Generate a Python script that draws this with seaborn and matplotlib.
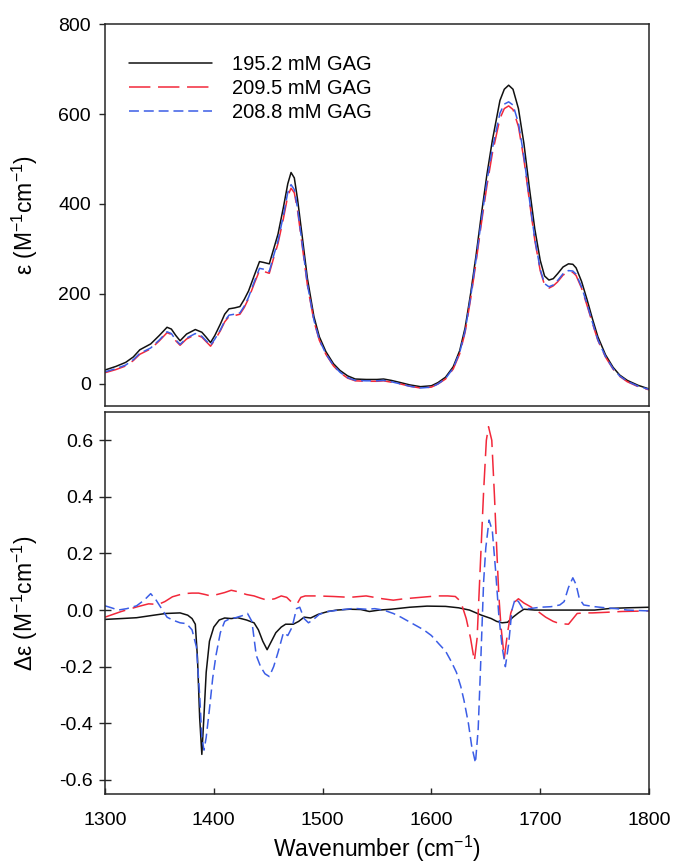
import matplotlib
matplotlib.use("Agg")
import matplotlib.pyplot as plt
import seaborn as sns
import numpy as np
import pandas as pd

# ---------------- data ----------------
labels = ["195.2 mM GAG", "209.5 mM GAG", "208.8 mM GAG"]

# top panel: extinction coefficient spectra
wn_top = [1300, 1310, 1319, 1326, 1332, 1342, 1350, 1357, 1361, 1365, 1369, 1375,
          1383, 1389, 1393, 1397, 1401, 1406, 1410, 1414, 1419, 1424, 1428, 1432,
          1437, 1442, 1446, 1451, 1455, 1459, 1464, 1468, 1471, 1474, 1477, 1481,
          1486, 1492, 1497, 1503, 1510, 1516, 1523, 1530, 1540, 1550, 1556, 1563,
          1570, 1580, 1590, 1600, 1606, 1613, 1620, 1626, 1631, 1636, 1641, 1646,
          1651, 1656, 1663, 1667, 1671, 1675, 1680, 1685, 1690, 1695, 1700, 1704,
          1708, 1712, 1716, 1721, 1726, 1730, 1733, 1738, 1743, 1748, 1753, 1760,
          1767, 1773, 1780, 1790, 1800]
eps_195 = [31, 39, 48, 60, 76, 89, 108, 126, 122, 108, 96, 111,
           121, 115, 104, 92, 108, 133, 155, 167, 169, 172, 188, 207,
           240, 272, 270, 267, 300, 333, 393, 445, 470, 458, 410, 333,
           235, 150, 105, 72, 45, 30, 18, 11, 10, 10, 11, 8,
           4, -2, -6, -4, 3, 15, 38, 74, 125, 200, 285, 378,
           465, 541, 630, 655, 664, 655, 612, 535, 437, 345, 275, 240,
           231, 234, 245, 260, 267, 266, 258, 228, 188, 145, 105, 65,
           37, 20, 8, -3, -11]
eps_209_5 = [25, 32, 40, 52, 66, 78, 96, 114, 110, 96, 86, 100,
             110, 104, 94, 84, 98, 118, 138, 150, 152, 155, 170, 190,
             222, 252, 250, 246, 280, 312, 368, 418, 435, 425, 385, 312,
             220, 140, 97, 66, 40, 25, 13, 7, 6, 6, 7, 4,
             1, -5, -9, -7, 0, 11, 33, 67, 115, 188, 270, 358,
             440, 512, 590, 612, 618, 610, 572, 500, 408, 320, 252, 220,
             213, 218, 227, 242, 249, 248, 241, 213, 175, 135, 97, 60,
             33, 17, 5, -6, -13]
eps_208_8 = [27, 34, 42, 54, 68, 80, 98, 116, 112, 98, 88, 102,
             112, 106, 96, 86, 100, 120, 140, 153, 155, 158, 173, 193,
             226, 257, 255, 250, 285, 318, 375, 426, 443, 432, 390, 316,
             222, 142, 98, 67, 41, 26, 14, 8, 7, 7, 8, 5,
             1, -5, -9, -7, 0, 12, 35, 70, 118, 192, 276, 365,
             450, 523, 602, 622, 627, 620, 580, 506, 412, 323, 255, 223,
             216, 220, 230, 245, 252, 251, 244, 216, 178, 137, 98, 61,
             34, 18, 6, -5, -12]

# bottom panel: difference spectra
wn_d_195 = [1300, 1315, 1329, 1345, 1356, 1369, 1376, 1380, 1383, 1385, 1387, 1389,
            1391, 1393, 1396, 1400, 1405, 1410, 1416, 1422, 1430, 1437, 1441, 1445,
            1449, 1453, 1457, 1462, 1466, 1473, 1478, 1483, 1489, 1496, 1505, 1513,
            1525, 1535, 1543, 1552, 1563, 1580, 1596, 1613, 1625, 1635, 1646, 1655,
            1660, 1665, 1670, 1675, 1680, 1685, 1695, 1720, 1750, 1765, 1780, 1800]
d_195 = [-0.033, -0.03, -0.027, -0.018, -0.012, -0.01, -0.018, -0.03, -0.05, -0.17, -0.38, -0.51,
         -0.37, -0.22, -0.11, -0.06, -0.035, -0.028, -0.03, -0.027, -0.035, -0.045, -0.07, -0.11,
         -0.14, -0.11, -0.08, -0.06, -0.05, -0.05, -0.04, -0.025, -0.028, -0.015, -0.005, 0.0,
         0.003, 0.002, -0.005, 0.0, 0.003, 0.01, 0.014, 0.013, 0.008, 0.0, -0.018, -0.03,
         -0.04, -0.045, -0.043, -0.025, -0.01, 0.003, 0.0, 0.0, 0.0, 0.006, 0.008, 0.01]

wn_d_209_5 = [1300, 1315, 1330, 1340, 1349, 1355, 1362, 1372, 1380, 1386, 1392, 1397,
              1403, 1410, 1416, 1422, 1430, 1437, 1443, 1449, 1456, 1462, 1467, 1471,
              1474, 1477, 1480, 1484, 1495, 1510, 1525, 1540, 1555, 1565, 1575, 1590,
              1605, 1615, 1622, 1627, 1632, 1636, 1639.5, 1642, 1644.7, 1648, 1650.5, 1652.5,
              1655.5, 1658, 1660, 1662, 1664, 1667, 1670, 1673, 1677, 1680, 1685, 1692,
              1698, 1705, 1712, 1718, 1726, 1734, 1740, 1748, 1760, 1775, 1800]
d_209_5 = [-0.025, -0.005, 0.012, 0.022, 0.02, 0.03, 0.047, 0.058, 0.06, 0.06, 0.055, 0.05,
           0.055, 0.062, 0.07, 0.065, 0.055, 0.05, 0.042, 0.035, 0.04, 0.05, 0.045, 0.03,
           0.022, 0.025, 0.045, 0.05, 0.05, 0.048, 0.045, 0.05, 0.04, 0.035, 0.04, 0.045,
           0.05, 0.05, 0.048, 0.03, -0.03, -0.1, -0.18, -0.1, 0.135, 0.42, 0.6, 0.648,
           0.6, 0.4, 0.22, 0.05, -0.06, -0.17, -0.08, -0.01, 0.03, 0.04, 0.025, 0.01,
           -0.005, -0.025, -0.04, -0.048, -0.05, -0.012, -0.01, -0.01, -0.008, -0.005, -0.003]

wn_d_208_8 = [1300, 1306, 1312, 1320, 1329, 1336, 1342, 1347, 1352, 1357, 1362, 1369,
              1375, 1380, 1384, 1387, 1389, 1391, 1393, 1396, 1399, 1402, 1406, 1410,
              1415, 1420, 1426, 1431, 1435, 1439, 1443, 1447, 1451, 1455, 1459, 1464,
              1468, 1472, 1476, 1479, 1483, 1487, 1491, 1497, 1505, 1515, 1529, 1540,
              1548, 1556, 1565, 1572, 1579, 1586, 1593, 1600, 1607, 1613, 1618, 1623,
              1627, 1630, 1634, 1637, 1640.5, 1643, 1645, 1648, 1650, 1653, 1656, 1659,
              1662, 1665, 1668, 1671, 1674, 1677, 1680, 1684, 1690, 1700, 1710, 1718,
              1722, 1726, 1730, 1733, 1736, 1740, 1750, 1760, 1770, 1780, 1800]
d_208_8 = [0.015, 0.008, 0.0, 0.005, 0.015, 0.035, 0.058, 0.035, 0.005, -0.025, -0.035, -0.045,
           -0.048, -0.07, -0.13, -0.3, -0.45, -0.495, -0.45, -0.35, -0.24, -0.16, -0.08, -0.04,
           -0.03, -0.027, -0.02, -0.012, -0.04, -0.16, -0.2, -0.225, -0.235, -0.2, -0.15, -0.08,
           -0.09, -0.06, 0.005, 0.01, -0.03, -0.045, -0.035, -0.015, -0.005, 0.0, 0.006, 0.003,
           0.005, 0.0, -0.012, -0.025, -0.04, -0.055, -0.07, -0.09, -0.12, -0.145, -0.18, -0.22,
           -0.27, -0.32, -0.4, -0.48, -0.54, -0.42, -0.22, 0.1, 0.22, 0.318, 0.28, 0.14,
           -0.02, -0.13, -0.2, -0.12, 0.0, 0.04, 0.03, 0.005, 0.005, 0.01, 0.012, 0.018,
           0.03, 0.08, 0.114, 0.09, 0.04, 0.018, 0.012, 0.008, 0.005, 0.0, -0.003]

top_ticks = [0, 200, 400, 600, 800]
bot_ticks = [-0.6, -0.4, -0.2, 0.0, 0.2, 0.4, 0.6]
bot_ticklabels = ["-0.6", "-0.4", "-0.2", "0.0", "0.2", "0.4", "0.6"]
x_ticks = [1300, 1400, 1500, 1600, 1700, 1800]

# ---------------- style ----------------
sns.set_style("ticks")
plt.rcParams["font.family"] = ["Liberation Sans", "DejaVu Sans"]
plt.rcParams["mathtext.default"] = "regular"
plt.rcParams["axes.unicode_minus"] = False
plt.rcParams["text.color"] = "black"
plt.rcParams["axes.labelcolor"] = "black"
plt.rcParams["xtick.color"] = "black"
plt.rcParams["ytick.color"] = "black"

BLACK = "#111111"
RED = "#f2283a"
BLUE = "#3b5de6"
SPINE = "#262626"

fig = plt.figure(figsize=(6.74, 8.67), dpi=100)
ax1 = fig.add_axes([0.1558, 0.5317, 0.8071, 0.4406])
ax2 = fig.add_axes([0.1558, 0.0842, 0.8071, 0.4406])

styles = [
    dict(color=BLACK, linestyle="-"),
    dict(color=RED, linestyle=(0, (14, 5))),
    dict(color=BLUE, linestyle=(0, (6.5, 3.2))),
]

top_series = [(wn_top, eps_195), (wn_top, eps_209_5), (wn_top, eps_208_8)]
bot_series = [(wn_d_195, d_195), (wn_d_209_5, d_209_5), (wn_d_208_8, d_208_8)]

for (x, y), lab, st in zip(top_series, labels, styles):
    sns.lineplot(x=x, y=y, ax=ax1, label=lab, linewidth=1.1, **st)
for (x, y), st in zip(bot_series, styles):
    sns.lineplot(x=x, y=y, ax=ax2, linewidth=1.1, **st)

for ax in (ax1, ax2):
    ax.set_xlim(1300, 1800)
    for s in ax.spines.values():
        s.set_visible(True)
        s.set_linewidth(1.1)
        s.set_color(SPINE)

ax1.set_ylim(-49, 800)
ax1.set_yticks(top_ticks)
ax1.set_xticks([])
ax1.tick_params(axis="y", direction="out", length=4, width=1.0, pad=6,
                labelsize=14, color=SPINE, labelcolor="black")
ax1.set_xlabel("")
ax1.set_ylabel(r"ε (M$^{-1}$cm$^{-1}$)", fontsize=16.5, color="black")
ax1.yaxis.set_label_coords(-0.12, 0.5)

ax2.set_ylim(-0.65, 0.70)
ax2.set_yticks(bot_ticks)
ax2.set_yticklabels(bot_ticklabels)
ax2.set_xticks(x_ticks)
ax2.tick_params(axis="y", direction="inout", length=9, width=1.0, pad=4,
                labelsize=14, color=SPINE, labelcolor="black")
ax2.tick_params(axis="x", direction="in", length=4, width=1.0, pad=13,
                labelsize=14, color=SPINE, labelcolor="black")
ax2.set_xlabel(r"Wavenumber (cm$^{-1}$)", fontsize=16.5, color="black")
ax2.xaxis.set_label_coords(0.5, -0.105)
ax2.set_ylabel(r"Δε (M$^{-1}$cm$^{-1}$)", fontsize=16.5, color="black")
ax2.yaxis.set_label_coords(-0.12, 0.5)

leg = ax1.legend(loc="upper left", bbox_to_anchor=(0.03, 0.94), frameon=False,
                 fontsize=14.5, handlelength=4.1, handletextpad=1.0,
                 labelspacing=0.25, borderaxespad=0.0)
for t in leg.get_texts():
    t.set_color("black")

fig.savefig("out.png", dpi=100)
